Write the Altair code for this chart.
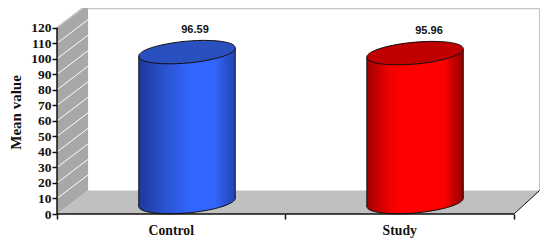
import altair as alt
import pandas as pd

groups = ["Control", "Study"]
values = [96.59, 95.96]
value_labels = ["96.59", "95.96"]
value_label_x = [0.604, 1.628]
group_mid = [0.5, 1.5]
y_ticks = list(range(0, 130, 10))
x_ticks = [0, 1, 2]

# 3-D frame, in axis units
depth_x = 0.136
depth_x_right = 0.1125
depth_y = 15.2
x_max = 2.1138
y_max = 132.7
wall_top = 136
visible_top = 132.3
x_end = 2
y_end = 120

# cylinders, in axis units
cyl_center = [0.569, 1.567]
cyl_half = 0.211
cyl_base = 7.7
cyl_skew = 2.7

fills = {
    "Control": dict(stops=[("#1c3a9c", 0), ("#2c55d5", 0.3), ("#3366ff", 0.55), ("#3366ff", 0.78), ("#2143b0", 1)], top="#2a4fbe"),
    "Study": dict(stops=[("#a00000", 0), ("#f00000", 0.24), ("#ff0000", 0.35), ("#ff0000", 0.8), ("#8f0000", 1)], top="#c00000"),
}

ELLIPSE = "M-1,0.096 A1.005,0.222 -5.2 1 1 1,-0.096 A1.005,0.222 -5.2 1 1 -1,0.096 Z"
ELLIPSE_SIZE = (2 * cyl_half * 228.5) ** 2

xs = alt.Scale(domain=[0, x_max], nice=False, zero=False)
ys = alt.Scale(domain=[0, y_max], nice=False, zero=False)
x_axis = alt.Axis(values=x_ticks, labels=False, title=None, domain=False, grid=False,
                  tickColor="#111111", tickWidth=1.5, tickSize=5, zindex=1)
y_axis = alt.Axis(
    values=y_ticks, title="Mean value", domain=False, grid=False, labelFont="Liberation Serif", labelFontWeight="bold",
    labelFontSize=13.5, labelColor="#111111", labelPadding=1, tickColor="#111111", tickWidth=1.5, tickSize=5,
    titleFont="Liberation Serif", titleFontWeight="bold", titleFontSize=15, titleColor="#111111",
    titleX=-34, titleY=104, titleAnchor="middle", titleAngle=-90, labelOverlap=False, zindex=1,
)
X = lambda f="x": alt.X(f"{f}:Q", scale=xs, axis=x_axis)
Y = lambda f="y": alt.Y(f"{f}:Q", scale=ys, axis=y_axis)


def grad(stops):
    return alt.LinearGradient(
        gradient="linear", x1=0, x2=1, y1=0, y2=0,
        stops=[alt.GradientStop(color=c, offset=o) for c, o in stops],
    )


back = alt.Chart(pd.DataFrame({"x": [depth_x], "x2": [x_end + depth_x_right], "y": [depth_y], "y2": [wall_top]})).mark_rect(
    color="white").encode(x=X(), x2="x2:Q", y=Y(), y2="y2:Q")

left_wall = alt.Chart(pd.DataFrame({"x": [0, depth_x], "y": [0, depth_y], "y2": [y_end, wall_top]})).mark_area(
    color="#a8a8a8").encode(x=X(), y=Y(), y2="y2:Q")

floor = alt.Chart(pd.DataFrame({"y": [0, depth_y], "x": [0, depth_x], "x2": [x_end, x_end + depth_x_right]})).mark_area(
    color="#c0c0c0", orient="horizontal").encode(y=Y(), x=X(), x2="x2:Q")

grid_df = pd.DataFrame({"y": y_ticks[1:-1]})
grid_df["y2"] = grid_df["y"] + depth_y
grid_df["x"] = 0
grid_df["x2"] = depth_x
grid = alt.Chart(grid_df).mark_rule(color="white", strokeWidth=1).encode(x=X(), x2="x2:Q", y=Y(), y2="y2:Q")

edges_df = pd.DataFrame({
    "x": [0, depth_x, x_end + depth_x_right],
    "x2": [depth_x, x_end + depth_x_right, x_end + depth_x_right],
    "y": [y_end, visible_top, depth_y],
    "y2": [y_end + depth_y, visible_top, visible_top],
})
edges = alt.Chart(edges_df).mark_rule(color="#c4c4c4", strokeWidth=1.5).encode(x=X(), x2="x2:Q", y=Y(), y2="y2:Q")

front_edge = alt.Chart(pd.DataFrame({"x": [x_end], "x2": [x_end + depth_x_right], "y": [0], "y2": [depth_y]})).mark_rule(
    color="#111111", strokeWidth=1).encode(x=X(), x2="x2:Q", y=Y(), y2="y2:Q")

axis_x = alt.Chart(pd.DataFrame({"x": [0], "x2": [x_end], "y": [0]})).mark_rule(color="#111111", strokeWidth=1.5).encode(
    x=X(), x2="x2:Q", y=Y())

axis_y = alt.Chart(pd.DataFrame({"x": [0], "y": [0], "y2": [y_end]})).mark_rule(color="#111111", strokeWidth=1.5).encode(
    x=X(), y=Y(), y2="y2:Q")

layers = [back, left_wall, floor, grid, edges, front_edge]

for name, v, c in zip(groups, values, cyl_center):
    f = fills[name]
    left, right = c - cyl_half, c + cyl_half
    base = cyl_base
    top = cyl_base + v
    g = grad(f["stops"])
    bottom_df = pd.DataFrame({"x": [c], "y": [base]})
    top_df = pd.DataFrame({"x": [c], "y": [top]})
    body_df = pd.DataFrame({
        "x": [left, right],
        "y": [base - cyl_skew, base + cyl_skew],
        "y2": [top - cyl_skew, top + cyl_skew],
    })
    layers.append(alt.Chart(bottom_df).mark_point(shape=ELLIPSE, size=ELLIPSE_SIZE, filled=True, fill=g, stroke="#111111",
                                                  strokeWidth=1, opacity=1).encode(x=X(), y=Y()))
    layers.append(alt.Chart(body_df).mark_area(fill=g).encode(x=X(), y=Y(), y2="y2:Q"))
    layers.append(alt.Chart(body_df).mark_rule(color="#111111", strokeWidth=1).encode(x=X(), y=Y(), y2="y2:Q"))
    layers.append(alt.Chart(top_df).mark_point(shape=ELLIPSE, size=ELLIPSE_SIZE, filled=True, fill=f["top"], stroke="#111111",
                                               strokeWidth=1, opacity=1).encode(x=X(), y=Y()))

value_df = pd.DataFrame({"x": value_label_x, "y": [cyl_base + v for v in values], "t": value_labels})
value_text = alt.Chart(value_df).mark_text(font="Liberation Sans", fontWeight="bold", fontSize=11, color="#111111",
                                           dy=-22).encode(x=X(), y=Y(), text="t:N")

cat_df = pd.DataFrame({"x": group_mid, "y": [0, 0], "t": groups})
cat_text = alt.Chart(cat_df).mark_text(font="Liberation Serif", fontWeight="bold", fontSize=13.7, color="#111111",
                                       dy=17).encode(x=X(), y=Y(), text="t:N")

layers += [axis_x, axis_y, value_text, cat_text]

chart = alt.layer(*layers).properties(
    width=483, height=206,
    padding={"left": 49, "top": 0, "right": 0, "bottom": 24},
    autosize=alt.AutoSizeParams(type="none"),
    background="white",
).configure_view(stroke=None)

chart.save("out.html", embed_options={"renderer": "svg", "actions": False})
